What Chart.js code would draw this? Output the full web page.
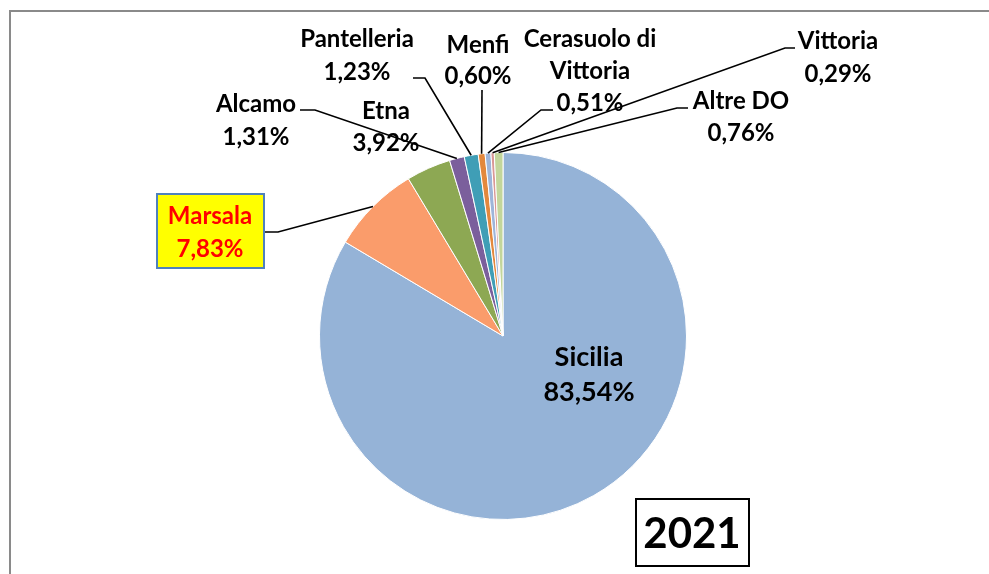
<!DOCTYPE html>
<html>
<head>
<meta charset="utf-8">
<script src="https://cdn.jsdelivr.net/npm/chart.js@4/dist/chart.umd.min.js"></script>
<style>
  html, body { margin: 0; padding: 0; background: #fff; }
  #wrap { width: 989px; height: 574px; position: relative; }
</style>
</head>
<body>
<div id="wrap"><canvas id="pie"></canvas></div>
<script>
// Quote DO Sicilia 2021 (%)
const categories = ['Sicilia', 'Marsala', 'Etna', 'Alcamo', 'Pantelleria', 'Menfi', 'Cerasuolo di Vittoria', 'Vittoria', 'Altre DO'];
const shares = [83.54, 7.83, 3.92, 1.31, 1.23, 0.60, 0.51, 0.29, 0.76];
const sliceColors = ['#95B3D7', '#FA9C6B', '#8DA853', '#7B5F9C', '#3F9EB6', '#E3883D', '#9EB5D9', '#DA9896', '#C3D69B'];
const yearLabel = '2021';

// label text lines (name lines + value)
const labelLines = [
    ['Sicilia'], ['Marsala'], ['Etna'], ['Alcamo'], ['Pantelleria'], ['Menfi'],
    ['Cerasuolo di', 'Vittoria'], ['Vittoria'], ['Altre DO']
];

// where each label sits, and where its leader line attaches (null = no leader)
const labelPlace = [
    { x: 589, y: 357, gap: 35, size: 27, leader: null },
    { x: 210, y: 216, gap: 33, size: 24, leader: [[265, 232], [278, 232]] },
    { x: 386, y: 111, gap: 32, size: 24, leader: null },
    { x: 256, y: 104, gap: 33, size: 24, leader: [[300, 110], [315, 110]] },
    { x: 357, y: 39, gap: 33, size: 24, leader: [[413, 78], [425, 78]] },
    { x: 478, y: 45, gap: 31, size: 24, leader: [[482, 90]] },
    { x: 590, y: 39, gap: 32, size: 24, leader: [[553, 110], [541, 110]] },
    { x: 838, y: 41, gap: 33, size: 24, leader: [[795, 48], [785, 48]] },
    { x: 741, y: 101, gap: 32, size: 24, leader: [[688, 108], [677, 108]] }
];

function fmtPct(v) {
    return v.toFixed(2).replace('.', ',') + '%';
}

const FONT = 'Lato, "Open Sans", sans-serif';

const decorPlugin = {
    id: 'decor',
    beforeDraw(chart) {
        const ctx = chart.ctx;
        ctx.save();
        ctx.strokeStyle = '#8a8a8a';
        ctx.lineWidth = 2;
        ctx.strokeRect(10, 11, 1000, 600);
        ctx.restore();
    },
    afterDatasetsDraw(chart) {
        const ctx = chart.ctx;
        const arcs = chart.getDatasetMeta(0).data;
        ctx.save();

        // leader lines
        ctx.strokeStyle = '#000';
        ctx.lineWidth = 1.6;
        labelPlace.forEach((p, i) => {
            if (!p.leader) return;
            const a = arcs[i];
            const mid = (a.startAngle + a.endAngle) / 2;
            const ex = a.x + Math.cos(mid) * a.outerRadius;
            const ey = a.y + Math.sin(mid) * a.outerRadius;
            ctx.beginPath();
            ctx.moveTo(p.leader[0][0], p.leader[0][1]);
            for (let k = 1; k < p.leader.length; k++) ctx.lineTo(p.leader[k][0], p.leader[k][1]);
            ctx.lineTo(ex, ey);
            ctx.stroke();
        });

        // Marsala highlight box
        ctx.fillStyle = '#FFFF00';
        ctx.fillRect(157, 194, 107, 74);
        ctx.strokeStyle = '#4F81BD';
        ctx.lineWidth = 2;
        ctx.strokeRect(157, 194, 107, 74);

        // labels
        ctx.textAlign = 'center';
        ctx.textBaseline = 'middle';
        labelPlace.forEach((p, i) => {
            ctx.font = 'bold ' + p.size + 'px ' + FONT;
            ctx.fillStyle = i === 1 ? '#FF0000' : '#000';
            const lines = labelLines[i].concat([fmtPct(shares[i])]);
            lines.forEach((t, k) => ctx.fillText(t, p.x, p.y + k * p.gap));
        });

        // year box
        ctx.fillStyle = '#fff';
        ctx.fillRect(636, 499, 113, 67);
        ctx.strokeStyle = '#000';
        ctx.lineWidth = 2;
        ctx.strokeRect(636, 499, 113, 67);
        ctx.fillStyle = '#000';
        ctx.font = 'bold 42px ' + FONT;
        ctx.fillText(yearLabel, 692, 534);

        ctx.restore();
    }
};

new Chart(document.getElementById('pie'), {
    type: 'pie',
    data: {
        labels: categories,
        datasets: [{
            data: shares,
            backgroundColor: sliceColors,
            borderColor: '#ffffff',
            borderWidth: 1
        }]
    },
    options: {
        responsive: true,
        maintainAspectRatio: false,
        animation: false,
        layout: {
            padding: { left: 319, right: 302, top: 152, bottom: 54 }
        },
        plugins: {
            legend: { display: false },
            tooltip: { enabled: false }
        }
    },
    plugins: [decorPlugin]
});
</script>
</body>
</html>
